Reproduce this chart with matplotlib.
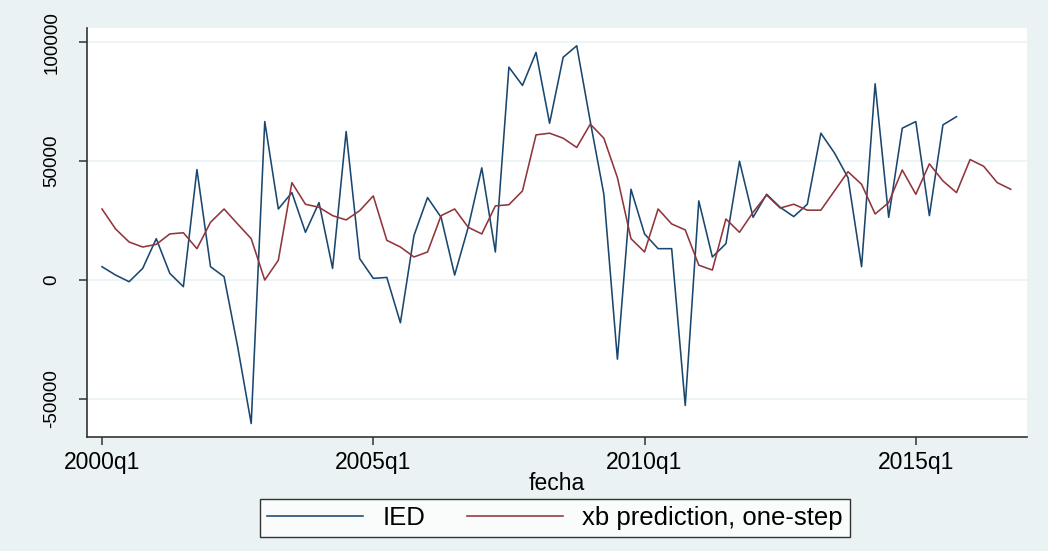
import matplotlib
matplotlib.use("Agg")
import matplotlib.pyplot as plt

# ---- data (quarters from 2000q1) ----
ied = [5600, 2100, -700, 4900, 17400, 2800, -2800, 46500, 5600, 1400,
       -28000, -60400, 66700, 29900, 36800, 20100, 32600, 4900, 62500, 9000,
       700, 1100, -18000, 18700, 34700, 26400, 2100, 22200, 47200, 11800,
       89600, 81900, 95800, 66000, 93750, 98600, 66700, 36100, -33300, 38200,
       19400, 13200, 13200, -52800, 33300, 9700, 15300, 50000, 26400, 36100,
       30600, 26700, 31900, 61800, 53500, 43100, 5600, 82600, 26400, 63900,
       66700, 27100, 65300, 68750]
xb_pred = [29900, 21500, 16000, 13900, 15000, 19400, 19900, 13200, 24300, 29900,
           23600, 17400, 0, 8300, 41000, 31900, 30600, 27100, 25300, 29200,
           35400, 16700, 13900, 9700, 11800, 27100, 29900, 22200, 19400, 31200,
           31700, 37500, 61100, 61800, 59700, 55800, 65600, 59700, 43100, 17400,
           11800, 29900, 23600, 21100, 6250, 4200, 25700, 20100, 28500, 35800,
           30300, 31900, 29400, 29400, 37500, 45600, 40300, 27800, 32600, 46300,
           36100, 48900, 41700, 36800, 50700, 47900, 41000, 38200]
x_ticks = [0, 20, 40, 60]
x_ticklabels = ["2000q1", "2005q1", "2010q1", "2015q1"]
y_ticks = [-50000, 0, 50000, 100000]
y_ticklabels = ["-50000", "0", "50000", "100000"]
series_labels = ["IED", "xb prediction, one-step"]

plt.rcParams["font.family"] = ["Liberation Sans", "DejaVu Sans"]

BG = "#EAF2F3"
BLUE = "#1a476f"
RED = "#90353b"

fig = plt.figure(figsize=(10.48, 5.51), dpi=100, facecolor=BG)
ax = fig.add_axes([0.0827, 0.2074, 0.8973, 0.7412])
ax.set_facecolor("white")

ax.plot(range(len(ied)), ied, color=BLUE, lw=1.15, label=series_labels[0])
ax.plot(range(len(xb_pred)), xb_pred, color=RED, lw=1.15, label=series_labels[1])

ax.set_xlim(-1.13, 68.2)
ax.set_ylim(-65950, 105940)

ax.set_xticks(x_ticks)
ax.set_xticklabels(x_ticklabels, fontsize=16.5)
ax.set_yticks(y_ticks)
ax.set_yticklabels(y_ticklabels, fontsize=13.5, rotation=90, va="center")

ax.grid(axis="y", color=BG, lw=1.2)
ax.set_axisbelow(True)
for s in ["top", "right"]:
    ax.spines[s].set_visible(False)
for s in ["left", "bottom"]:
    ax.spines[s].set_color("#333333")
    ax.spines[s].set_linewidth(1.2)
ax.tick_params(axis="both", direction="out", length=6, width=1.1, color="#333333")
ax.tick_params(axis="x", pad=4)
ax.tick_params(axis="y", pad=13)

ax.set_xlabel("fecha", fontsize=16.5, labelpad=-1)

leg = fig.legend(loc="center", bbox_to_anchor=(0.5295, 0.060), ncol=2, fontsize=18.5,
                 frameon=True, fancybox=False, edgecolor="black", facecolor="white",
                 handlelength=3.75, handletextpad=0.75, columnspacing=1.6,
                 borderpad=0.28, borderaxespad=0)
leg.get_frame().set_linewidth(1.0)

fig.savefig("out.png", dpi=100, facecolor=BG)
